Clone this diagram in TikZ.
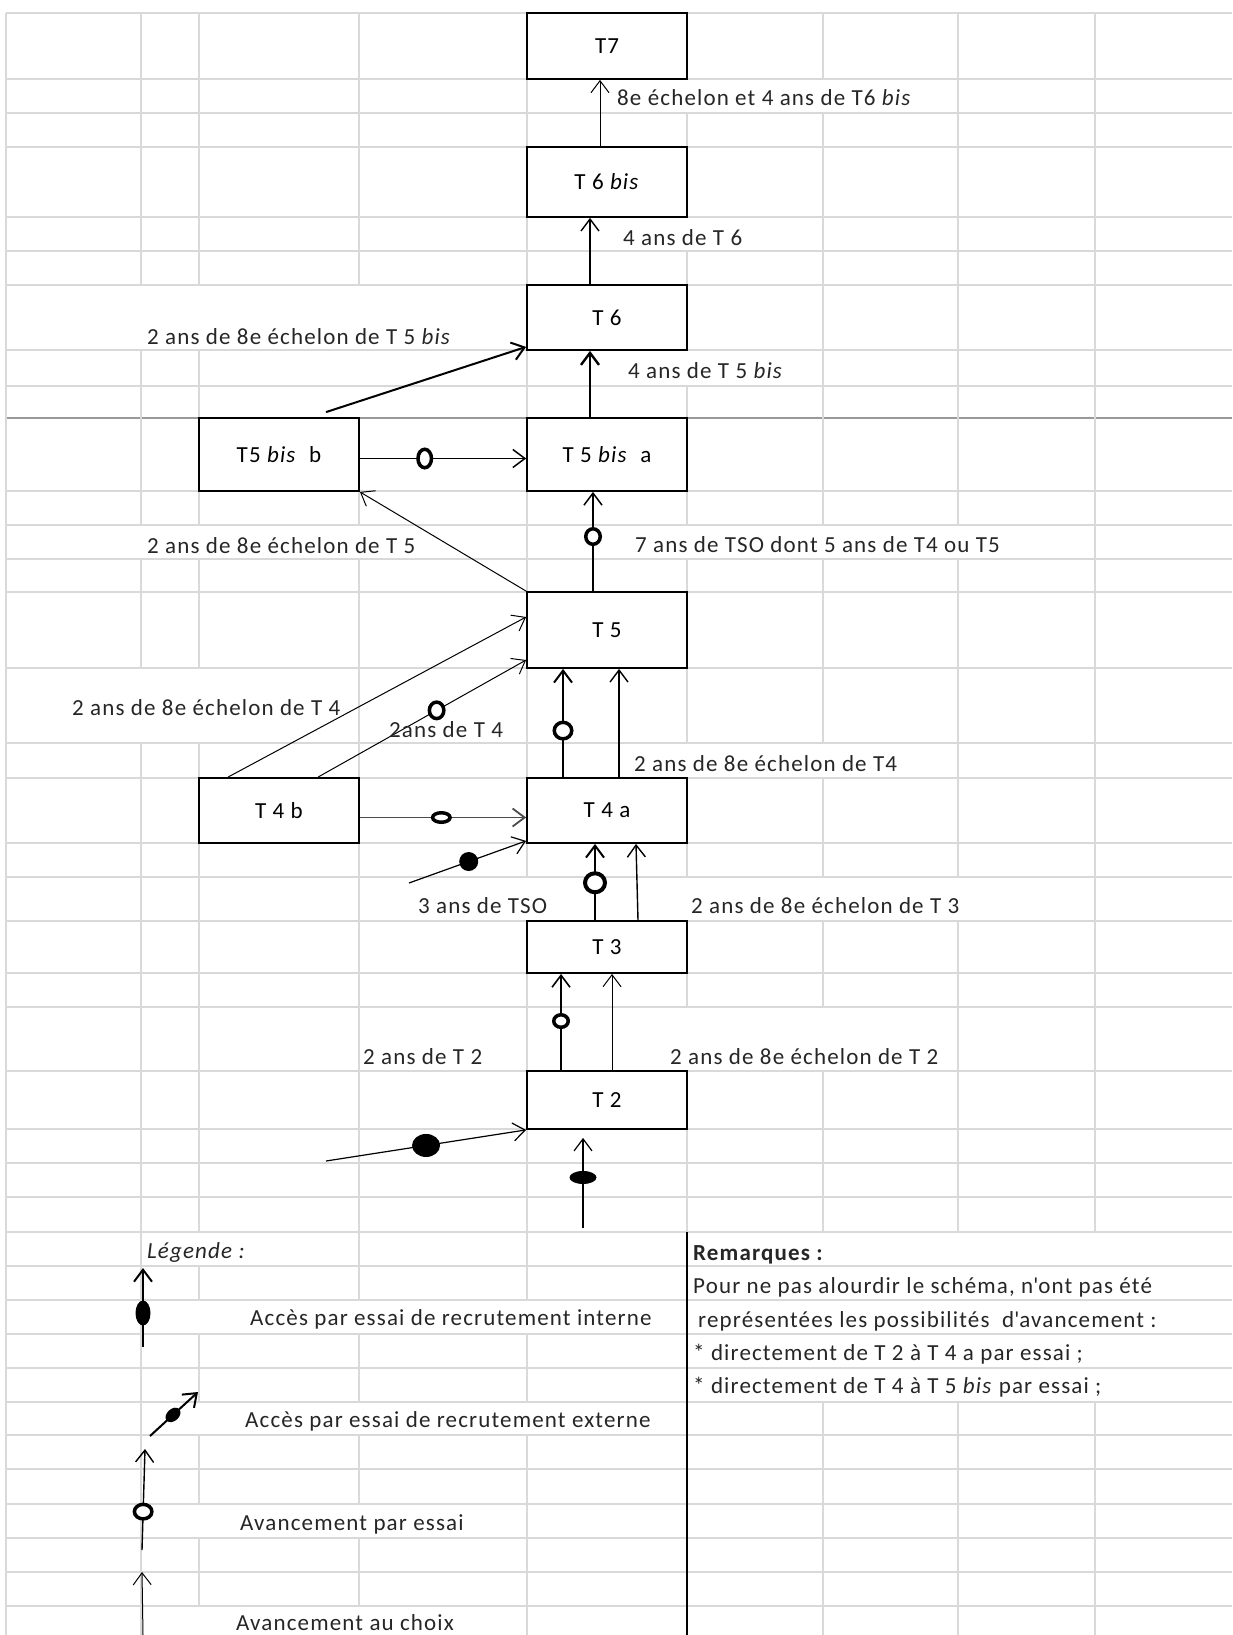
\documentclass[tikz,border=0pt]{standalone}
\usepackage{fontspec}
\setmainfont{Carlito}[LetterSpace=5]
\usepackage{tikz}
\usetikzlibrary{arrows.meta,shapes.geometric}
\tikzset{
  grille/.style={line width=1.3pt, color=black!15},
  fleche/.style={-{Straight Barb[length=12pt,width=18pt]}},
  lbl/.style={anchor=base west, inner sep=0pt, text=black!85},
  essai/.style 2 args={ellipse, draw=black, line width=3.5pt, fill=white, inner sep=0pt, minimum width=#1, minimum height=#2},
  recrut/.style 2 args={ellipse, fill=black, inner sep=0pt, minimum width=#1, minimum height=#2}
}

\begin{document}
\begin{tikzpicture}[x=1pt,y=-1pt,font=\fontsize{23}{27}\selectfont]
\useasboundingbox (0,0) rectangle (1232,1635);

\draw[grille] (6,13) -- (1232,13) (6,79) -- (1232,79) (6,113) -- (1232,113) (6,147) -- (1232,147);
\draw[grille] (6,217) -- (1232,217) (6,251) -- (1232,251) (6,285) -- (1232,285) (6,350) -- (1232,350);
\draw[grille] (6,386) -- (1232,386) (6,491) -- (1232,491) (6,525) -- (1232,525) (6,559) -- (1232,559);
\draw[grille] (6,592) -- (1232,592) (6,668) -- (1232,668) (6,743) -- (1232,743) (6,778) -- (1232,778);
\draw[grille] (6,843) -- (1232,843) (6,877) -- (1232,877) (6,921) -- (1232,921) (6,973) -- (1232,973);
\draw[grille] (6,1007) -- (1232,1007) (6,1071) -- (1232,1071) (6,1129) -- (1232,1129) (6,1163) -- (1232,1163);
\draw[grille] (6,1197) -- (1232,1197) (6,1232) -- (1232,1232) (6,1266) -- (1232,1266) (6,1300) -- (1232,1300);
\draw[grille] (6,1334) -- (1232,1334) (6,1368) -- (1232,1368) (6,1402) -- (1232,1402) (6,1435) -- (1232,1435);
\draw[grille] (6,1469) -- (1232,1469) (6,1504) -- (1232,1504) (6,1538) -- (1232,1538) (6,1572) -- (1232,1572);
\draw[grille] (6,1606) -- (1232,1606);
\draw[grille, line width=2.5pt, black!40] (6,418) -- (1232,418);

\draw[grille] (6,13) -- (6,1635);
\draw[grille] (141,13) -- (141,285) (141,350) -- (141,525) (141,559) -- (141,668) (141,743) -- (141,1635);
\draw[grille] (199,13) -- (199,285) (199,350) -- (199,525) (199,559) -- (199,668) (199,743) -- (199,1232);
\draw[grille] (199,1266) -- (199,1300) (199,1334) -- (199,1402) (199,1435) -- (199,1504) (199,1538) -- (199,1606);
\draw[grille] (359,13) -- (359,285) (359,418) -- (359,525) (359,559) -- (359,1300) (359,1334) -- (359,1402);
\draw[grille] (359,1435) -- (359,1504) (359,1538) -- (359,1606);
\draw[grille] (527,13) -- (527,877) (527,921) -- (527,1300) (527,1334) -- (527,1402) (527,1435) -- (527,1635);
\draw[grille] (687,13) -- (687,79) (687,113) -- (687,217) (687,251) -- (687,350) (687,386) -- (687,525);
\draw[grille] (687,559) -- (687,743) (687,778) -- (687,877) (687,921) -- (687,1007) (687,1071) -- (687,1232);
\draw[grille] (823,13) -- (823,79) (823,113) -- (823,525) (823,559) -- (823,743) (823,778) -- (823,877);
\draw[grille] (823,921) -- (823,1007) (823,1071) -- (823,1232) (823,1402) -- (823,1635);
\draw[grille] (958,13) -- (958,525) (958,559) -- (958,877) (958,921) -- (958,1232) (958,1402) -- (958,1635);
\draw[grille] (1095,13) -- (1095,1232) (1095,1402) -- (1095,1635);
\draw[line width=1.8pt] (687,1232) -- (687,1635);

\begin{scope}[every node/.style={rectangle,draw,line width=1.8pt,fill=white,minimum width=160pt,inner sep=0pt}]
\node (0)[minimum height=66pt] at (607,46) {T7};
\node (1)[minimum height=70pt] at (607,182) {T 6 \textit{bis}};
\node (2)[minimum height=65pt] at (607,317.5) {T 6};
\node (3)[minimum height=73pt] at (607,454.5) {T 5 \textit{bis}\ \ a};
\node (4)[minimum height=73pt] at (279,454.5) {T5 \textit{bis}\ \ b};
\node (5)[minimum height=76pt] at (607,630) {T 5};
\node (6)[minimum height=65pt] at (607,810.5) {T 4 a};
\node (7)[minimum height=65pt] at (279,810.5) {T 4 b};
\node (8)[minimum height=52pt] at (607,947) {T 3};
\node (9)[minimum height=58pt] at (607,1100) {T 2};
\end{scope}

\draw[fleche, line width=1pt] ([xshift=-7pt]1.north) -- ([xshift=-7pt]0.south);
\draw[fleche, line width=1.4pt] ([xshift=-17pt]2.north) -- ([xshift=-17pt]1.south);
\draw[fleche, line width=2.4pt] ([xshift=-17pt]3.north) -- ([xshift=-17pt]2.south);
\draw[fleche, line width=2pt] ([xshift=47pt,yshift=5pt]4.north) -- ([yshift=4pt]2.south west);
\draw[fleche, line width=1.5pt] ([yshift=-4pt]4.east) -- node[essai={13.5pt}{18.5pt},pos=0.39] (10) {} ([yshift=-4pt]3.west);
\draw[fleche, line width=1.5pt] ([xshift=-14pt]5.north) -- node[essai={14.5pt}{15.5pt},pos=0.55] (11) {} ([xshift=-14pt]3.south);
\draw[fleche, line width=1pt] (5.north west) -- (4.south east);
\draw[fleche, line width=1pt] ([xshift=-51pt]7.north) -- ([yshift=13pt]5.west);
\draw[fleche, line width=1pt] ([xshift=39pt]7.north) -- node[essai={14.5pt}{16.5pt},pos=0.57] (12) {} ([yshift=-30pt]5.west);
\draw[fleche, line width=2pt] ([xshift=-44pt]6.north) -- node[essai={17.5pt}{16.5pt},pos=0.43] (13) {} ([xshift=-44pt]5.south);
\draw[fleche, line width=1.4pt] ([xshift=12pt]6.north) -- ([xshift=12pt]5.south);
\draw[fleche, line width=1.8pt, black!70] ([yshift=-7pt]7.east) -- node[essai={17.5pt}{9.5pt},pos=0.49] (14) {} ([yshift=-7pt]6.west);
\coordinate (15) at (409,883);
\draw[fleche, line width=1.2pt] (15) -- node[recrut={19pt}{19pt},pos=0.51] (16) {} ([yshift=3pt]6.south west);
\draw[fleche, line width=2pt] ([xshift=-12pt]8.north) -- node[essai={20pt}{19pt},pos=0.49,line width=4pt] (17) {} ([xshift=-12pt]6.south);
\draw[fleche, line width=1.4pt] ([xshift=31pt]8.north) -- ([xshift=29pt]6.south);
\draw[fleche, line width=1.6pt] ([xshift=-46pt]9.north) -- node[essai={14.5pt}{12.5pt},pos=0.51] (18) {} ([xshift=-46pt]8.south);
\draw[fleche, line width=1pt] ([xshift=5pt]9.north) -- ([xshift=5pt]8.south);
\coordinate (19) at (326,1161);
\draw[fleche, line width=1.2pt] (19) -- node[recrut={28pt}{23pt},pos=0.5] (20) {} (9.south west);
\coordinate (21) at (583,1228);
\draw[fleche, line width=1.2pt, shorten >=8pt] (21) -- node[recrut={27pt}{13pt},pos=0.515] (22) {} ([xshift=-24pt]9.south);

\node[lbl] (23) at (617,106) {8e échelon et 4 ans de T6 \textit{bis}};
\node[lbl] (24) at (623,245) {4 ans de T 6};
\node[lbl] (25) at (628,378) {4 ans de T 5 \textit{bis}};
\node[lbl] (26) at (147,344) {2 ans de 8e échelon de T 5 \textit{bis}};
\node[lbl] (27) at (147,553) {2 ans de 8e échelon de T 5};
\node[lbl] (28) at (635,552) {7 ans de TSO dont 5 ans de T4 ou T5};
\node[lbl] (29) at (72,715) {2 ans de 8e échelon de T 4};
\node[lbl] (30) at (389,737) {2ans de T 4};
\node[lbl] (31) at (634,771) {2 ans de 8e échelon de T4};
\node[lbl] (32) at (418,913) {3 ans de TSO};
\node[lbl] (33) at (691,913) {2 ans de 8e échelon de T 3};
\node[lbl] (34) at (363,1064) {2 ans de T 2};
\node[lbl] (35) at (670,1064) {2 ans de 8e échelon de T 2};

\node[lbl] (36) at (147,1258) {\textit{Légende :}};
\node[lbl] (37) at (693,1260) {\textbf{Remarques :}};
\node[lbl] (38) at (693,1293) {Pour ne pas alourdir le schéma, n\textquotesingle ont pas été};
\node[lbl] (39) at (698,1327) {représentées les possibilités\ \ d\textquotesingle avancement :};
\node[lbl] (40) at (693,1360) {* directement de T 2 à T 4 a par essai ;};
\node[lbl] (41) at (693,1393) {* directement de T 4 à T 5 \textit{bis} par essai ;};

\coordinate (42) at (143,1347);
\coordinate (43) at (143,1268);
\draw[fleche, line width=2pt] (42) -- node[recrut={15pt}{25pt},pos=0.43] (44) {} (43);
\node[lbl] (45) at (250,1325) {Accès par essai de recrutement interne};
\coordinate (46) at (150,1436);
\coordinate (47) at (198,1392);
\draw[fleche, line width=2pt] (46) -- node[recrut={17pt}{12pt},pos=0.48,sloped] (48) {} (47);
\node[lbl] (49) at (245,1427) {Accès par essai de recrutement externe};
\coordinate (50) at (142,1550);
\coordinate (51) at (145,1449);
\draw[fleche, line width=1.4pt] (50) -- node[essai={17.5pt}{14.5pt},pos=0.38] (52) {} (51);
\node[lbl] (53) at (240,1530) {Avancement par essai};
\coordinate (54) at (143,1635);
\coordinate (55) at (142,1572);
\draw[fleche, line width=1pt] (54) -- (55);
\node[lbl] (56) at (236,1630) {Avancement au choix};
\end{tikzpicture}
\end{document}
